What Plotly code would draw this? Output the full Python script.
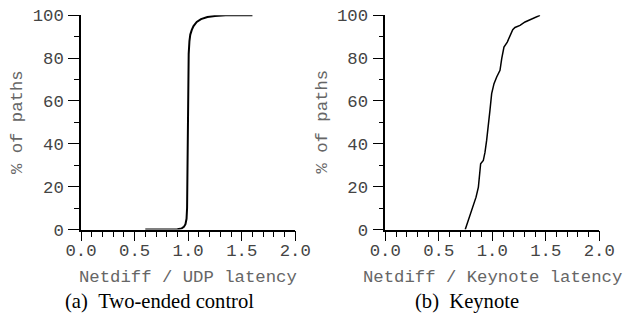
import plotly.graph_objects as go

# ---- data ----
udp_ratio = [0.6, 0.9, 0.94, 0.96, 0.975, 0.985, 0.99, 0.995, 1.0, 1.005, 1.012,
             1.02, 1.034, 1.05, 1.08, 1.12, 1.18, 1.25, 1.35, 1.6]
udp_pct = [0, 0.1, 0.5, 1.2, 2.5, 5, 10, 30, 70, 82, 88,
           91, 93.2, 95, 96.9, 98.2, 99.2, 99.7, 100, 100]

key_ratio = [0.747, 0.776, 0.798, 0.823, 0.848, 0.870, 0.880, 0.891, 0.916, 0.932,
             0.947, 0.963, 0.978, 0.994, 1.016, 1.041, 1.072, 1.088, 1.109, 1.140,
             1.172, 1.191, 1.212, 1.259, 1.306, 1.352, 1.399, 1.446]
key_pct = [0, 4.2, 8.1, 11.2, 15.1, 19.8, 26, 30.7, 32.2, 36.1,
           41.6, 50.9, 55.6, 63.4, 68.1, 71.2, 74.3, 79.8, 85.2, 87.5,
           90.7, 93.3, 94.3, 95.3, 96.9, 98, 99.2, 100]

x_titles = ["Netdiff / UDP latency", "Netdiff / Keynote latency"]
y_title = "% of paths"
captions = ["(a)\u00a0\u00a0Two-ended control", "(b)\u00a0\u00a0Keynote"]

# ---- layout geometry ----
W, H = 625, 321
def px(x):
    return x / W
def py(y):
    return (H - y) / H

mono = "Liberation Mono, Courier New, monospace"
serif = "Liberation Serif, Times New Roman, serif"
MS = 17.3

fig = go.Figure()
fig.add_trace(go.Scatter(x=udp_ratio, y=udp_pct, mode="lines",
                         line=dict(color="black", width=2), xaxis="x", yaxis="y",
                         showlegend=False, hoverinfo="skip"))
fig.add_trace(go.Scatter(x=key_ratio, y=key_pct, mode="lines",
                         line=dict(color="black", width=1.5), xaxis="x2", yaxis="y2",
                         showlegend=False, hoverinfo="skip"))

xdoms = [[px(81), px(295.3)], [px(385.3), px(599.3)]]
ydom = [py(229.5), py(15.3)]

def xaxis(dom, anchor):
    return dict(domain=dom, anchor=anchor, range=[0, 2], tickmode="linear", tick0=0, dtick=0.5,
                tickformat=".1f", ticks="outside", ticklen=10, tickwidth=1.3, tickcolor="black",
                showline=True, linecolor="black", linewidth=1.5, showgrid=False, zeroline=False,
                automargin=False,
                tickfont=dict(family=mono, size=MS, color="#444"), ticklabelstandoff=-6,
                minor=dict(ticks="outside", dtick=0.1, ticklen=6, tickwidth=1.3, tickcolor="black",
                           showgrid=False),
                fixedrange=True)

def yaxis(anchor):
    return dict(domain=ydom, anchor=anchor, range=[0, 100], tickmode="linear", tick0=0, dtick=20,
                ticks="outside", ticklen=11, tickwidth=1.3, tickcolor="black",
                showline=True, linecolor="black", linewidth=1.5, showgrid=False, zeroline=False,
                automargin=False,
                tickfont=dict(family=mono, size=MS, color="#444"), ticklabelstandoff=1,
                minor=dict(ticks="outside", dtick=10, ticklen=5, tickwidth=1.3, tickcolor="black",
                           showgrid=False),
                fixedrange=True)

fig.update_layout(
    template="none",
    width=W, height=H, margin=dict(l=0, r=0, t=0, b=0, pad=0, autoexpand=False),
    paper_bgcolor="white", plot_bgcolor="white",
    xaxis=xaxis(xdoms[0], "y"), yaxis=yaxis("x"),
    xaxis2=xaxis(xdoms[1], "y2"), yaxis2=yaxis("x2"),
)

ann = []
for i, d in enumerate(xdoms):
    ann.append(dict(text=x_titles[i], x=(d[0] + d[1]) / 2, y=py(277), xref="paper", yref="paper",
                    xanchor="center", yanchor="middle", showarrow=False,
                    font=dict(family=mono, size=MS, color="#666")))
for xc in [17, 321.5]:
    ann.append(dict(text=y_title, x=px(xc), y=py(122), xref="paper", yref="paper", textangle=-90,
                    xanchor="center", yanchor="middle", showarrow=False,
                    font=dict(family=mono, size=MS, color="#666")))
for xl, cap in zip([63, 413], captions):
    ann.append(dict(text=cap, x=px(xl), y=py(301), xref="paper", yref="paper",
                    xanchor="left", yanchor="middle", showarrow=False,
                    font=dict(family=serif, size=20.6, color="black")))
fig.update_layout(annotations=ann)

fig.write_html("out.html", config={"displayModeBar": False},
               post_script="document.body.style.margin='0';document.body.style.padding='0';")
